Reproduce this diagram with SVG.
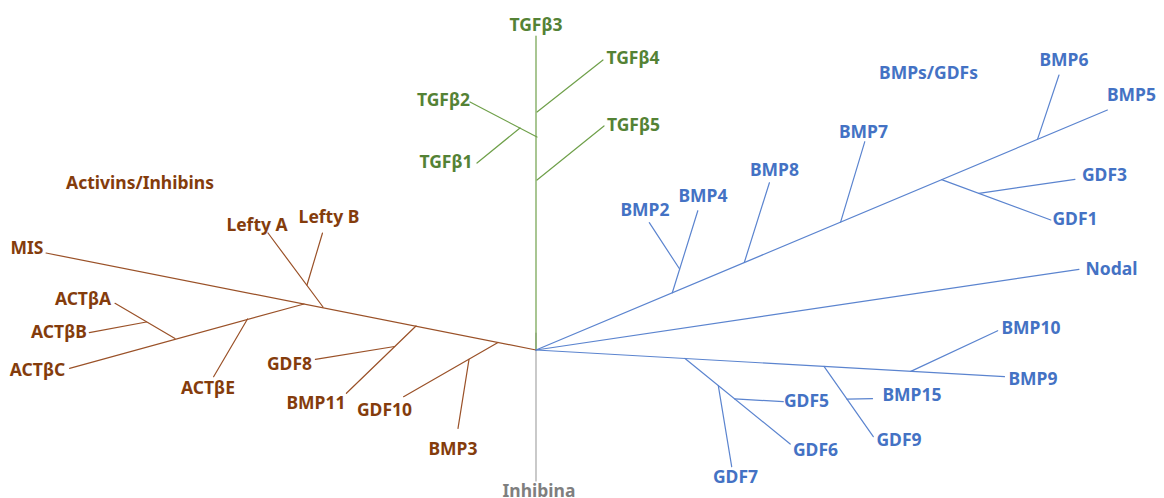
<svg xmlns="http://www.w3.org/2000/svg" width="1164" height="498" viewBox="0 0 1164 498">
<style>
text{font-family:"Noto Sans","Open Sans","Liberation Sans",sans-serif;font-weight:bold;font-size:17.5px;text-anchor:middle}
.g{fill:#548235}.b{fill:#843C0C}.u{fill:#4472C4}.k{fill:#7F7F7F}
line{stroke-width:1.2;fill:none;stroke-linecap:round}
.lg line{stroke:#6FA04A}.lb line{stroke:#9A5128}.lu line{stroke:#5B84CF}.lk line{stroke:#A6A6A6}
</style>
<rect width="1164" height="498" fill="#fff"/>
<g id="connectors">
<g class="lk"><line x1="536" y1="333" x2="536" y2="481"/></g>
<g class="lg">
<line x1="536" y1="36" x2="536" y2="350"/>
<line x1="537" y1="112" x2="603" y2="60"/>
<line x1="537" y1="137" x2="470" y2="102"/>
<line x1="520" y1="128" x2="477" y2="163"/>
<line x1="537" y1="180" x2="604" y2="126"/>
</g>
<g class="lb">
<line x1="536" y1="350" x2="46" y2="253"/>
<line x1="323" y1="307" x2="268" y2="233"/>
<line x1="307" y1="285" x2="322.5" y2="233"/>
<line x1="304" y1="304" x2="69.6" y2="368.3"/>
<line x1="247.5" y1="319" x2="213.6" y2="376.7"/>
<line x1="175" y1="338.5" x2="115" y2="303.3"/>
<line x1="146.4" y1="322" x2="89.3" y2="332.7"/>
<line x1="416" y1="326" x2="346.4" y2="393.3"/>
<line x1="394.6" y1="346.5" x2="315.4" y2="359.3"/>
<line x1="498" y1="342.5" x2="403.6" y2="396.7"/>
<line x1="469" y1="359.3" x2="458" y2="428.3"/>
</g>
<g class="lu">
<line x1="536" y1="350" x2="1107.4" y2="110"/>
<line x1="672.3" y1="292.8" x2="697.8" y2="210.7"/>
<line x1="679.6" y1="269" x2="649.3" y2="222.7"/>
<line x1="744.3" y1="262.5" x2="769.4" y2="182.7"/>
<line x1="840.6" y1="222.1" x2="864.8" y2="141.7"/>
<line x1="941.6" y1="179.6" x2="1050.8" y2="220"/>
<line x1="978.9" y1="193.4" x2="1075" y2="179.3"/>
<line x1="1037.5" y1="139.4" x2="1059" y2="75"/>
<line x1="536" y1="350" x2="1079" y2="269.3"/>
<line x1="536" y1="350" x2="1004.5" y2="376.7"/>
<line x1="910.8" y1="371.4" x2="997.7" y2="330.7"/>
<line x1="685" y1="358.5" x2="790.2" y2="444"/>
<line x1="718.3" y1="385.6" x2="731.7" y2="466.7"/>
<line x1="734.7" y1="398.9" x2="783.3" y2="401.7"/>
<line x1="824" y1="366.4" x2="873.3" y2="436.7"/>
<line x1="846.9" y1="399.1" x2="872.5" y2="398.7"/>
</g>
</g>
<g id="tgfb3"><text class="g" x="536" y="31">TGFβ3</text></g>
<g id="tgfb4"><text class="g" x="633" y="63.5">TGFβ4</text></g>
<g id="tgfb2"><text class="g" x="443.5" y="106">TGFβ2</text></g>
<g id="tgfb5"><text class="g" x="633.5" y="131">TGFβ5</text></g>
<g id="tgfb1"><text class="g" x="446" y="168">TGFβ1</text></g>
<g id="activins"><text class="b" x="140" y="189">Activins/Inhibins</text></g>
<g id="leftyA"><text class="b" x="257" y="231">Lefty A</text></g>
<g id="leftyB"><text class="b" x="329" y="223">Lefty B</text></g>
<g id="mis"><text class="b" x="27" y="254">MIS</text></g>
<g id="actba"><text class="b" x="83" y="305">ACTβA</text></g>
<g id="actbb"><text class="b" x="59" y="338">ACTβB</text></g>
<g id="actbc"><text class="b" x="37.5" y="376">ACTβC</text></g>
<g id="actbe"><text class="b" x="208" y="394">ACTβE</text></g>
<g id="gdf8"><text class="b" x="289.5" y="370">GDF8</text></g>
<g id="bmp11"><text class="b" x="316" y="409">BMP11</text></g>
<g id="gdf10"><text class="b" x="384.5" y="416">GDF10</text></g>
<g id="bmp3"><text class="b" x="453" y="455">BMP3</text></g>
<g id="inhibina"><text class="k" x="539" y="497">Inhibina</text></g>
<g id="bmpsgdfs"><text class="u" x="928.5" y="79">BMPs/GDFs</text></g>
<g id="bmp6"><text class="u" x="1064" y="65.5">BMP6</text></g>
<g id="bmp5"><text class="u" x="1131.5" y="100.5">BMP5</text></g>
<g id="bmp7"><text class="u" x="863.5" y="138">BMP7</text></g>
<g id="bmp8"><text class="u" x="774.5" y="176">BMP8</text></g>
<g id="bmp4"><text class="u" x="703" y="202">BMP4</text></g>
<g id="bmp2"><text class="u" x="645" y="216">BMP2</text></g>
<g id="gdf3"><text class="u" x="1104.5" y="181">GDF3</text></g>
<g id="gdf1"><text class="u" x="1075" y="225">GDF1</text></g>
<g id="nodal"><text class="u" x="1111.5" y="275">Nodal</text></g>
<g id="bmp10"><text class="u" x="1031" y="333.5">BMP10</text></g>
<g id="bmp9"><text class="u" x="1033" y="385">BMP9</text></g>
<g id="bmp15"><text class="u" x="912" y="401">BMP15</text></g>
<g id="gdf5"><text class="u" x="806.5" y="407">GDF5</text></g>
<g id="gdf9"><text class="u" x="899" y="446">GDF9</text></g>
<g id="gdf6"><text class="u" x="815.5" y="456">GDF6</text></g>
<g id="gdf7"><text class="u" x="735.5" y="483">GDF7</text></g>
</svg>
